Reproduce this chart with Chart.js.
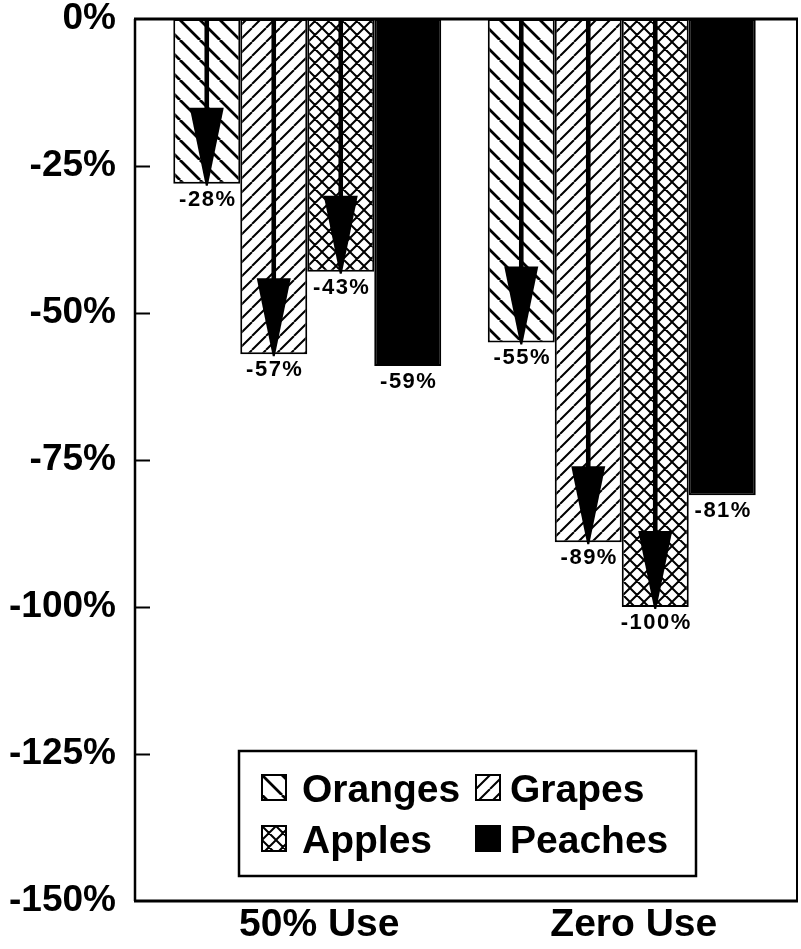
<!DOCTYPE html>
<html>
<head>
<meta charset="utf-8">
<script src="https://cdn.jsdelivr.net/npm/chart.js@4.4.1/dist/chart.umd.min.js"></script>
<style>
  html, body { margin: 0; padding: 0; background: #fff; }
  #wrap { width: 801px; height: 949px; }
</style>
</head>
<body>
<div id="wrap"><canvas id="chart" width="801" height="949"></canvas></div>
<script>
// data
const categories = ["50% Use", "Zero Use"];
const seriesNames = ["Oranges", "Grapes", "Apples", "Peaches"];
const oranges = [-28, -55];
const grapes  = [-57, -89];
const apples  = [-43, -100];
const peaches = [-59, -81];
const yTicks = [0, -25, -50, -75, -100, -125, -150];

const FONT = "'Liberation Sans', Arial, Helvetica, sans-serif";

// hatch fills
function hatch(period, dirs, lw){
  const c = document.createElement("canvas");
  c.width = c.height = period;
  const x = c.getContext("2d");
  x.fillStyle = "#fff";
  x.fillRect(0, 0, period, period);
  x.strokeStyle = "#000";
  x.lineWidth = lw;
  x.beginPath();
  for (let k = -1; k <= 1; k++){
    if (dirs.includes("\\")){ x.moveTo(k*period, 0); x.lineTo(k*period + period, period); }
    if (dirs.includes("/")){ x.moveTo(k*period, period); x.lineTo(k*period + period, 0); }
  }
  x.stroke();
  return x.createPattern(c, "repeat");
}

const fillOranges = hatch(20, "\\", 2.8);
const fillGrapes  = hatch(14, "/", 2);
const fillApples  = hatch(14, "\\/", 2);
const fillPeaches = "#000";

// frame + inward ticks
const framePlugin = {
  id: "frame",
  afterDatasetsDraw(chart){
    const { ctx, chartArea: a } = chart;
    const L = a.left - 15, R = a.right + 18;
    ctx.save();
    ctx.strokeStyle = "#000";
    ctx.lineWidth = 3;
    ctx.beginPath(); ctx.moveTo(L - 1, a.top); ctx.lineTo(R + 1, a.top); ctx.stroke();
    ctx.beginPath(); ctx.moveTo(L - 1, a.bottom); ctx.lineTo(R + 1, a.bottom); ctx.stroke();
    ctx.lineWidth = 2.5;
    ctx.beginPath(); ctx.moveTo(L, a.top); ctx.lineTo(L, a.bottom); ctx.stroke();
    ctx.lineWidth = 2;
    ctx.beginPath(); ctx.moveTo(R, a.top); ctx.lineTo(R, a.bottom); ctx.stroke();
    const y = chart.scales.y;
    ctx.lineWidth = 2;
    y.ticks.forEach(t => {
      if (t.value === 0 || t.value === -150) return;
      const py = Math.round(y.getPixelForValue(t.value)) + 0.5;
      ctx.beginPath(); ctx.moveTo(L, py); ctx.lineTo(L + 15, py); ctx.stroke();
    });
    ctx.restore();
  }
};

// arrows inside hatched bars + value labels
const arrowPlugin = {
  id: "arrows",
  afterDatasetsDraw(chart){
    const { ctx, chartArea: a } = chart;
    ctx.save();
    chart.data.datasets.forEach((ds, di) => {
      const meta = chart.getDatasetMeta(di);
      meta.data.forEach((bar, i) => {
        const x = bar.x, yEnd = bar.y;
        if (ds.arrow){
          const headH = 76, headW = 34;
          ctx.fillStyle = "#000";
          ctx.fillRect(x - 2.3, a.top, 4.6, yEnd - headH - a.top + 2);
          ctx.beginPath();
          ctx.moveTo(x - headW/2, yEnd - headH);
          ctx.lineTo(x + headW/2, yEnd - headH);
          ctx.lineTo(x + 1, yEnd + 2);
          ctx.lineTo(x - 1, yEnd + 2);
          ctx.closePath();
          ctx.fill();
        }
        ctx.fillStyle = "#000";
        ctx.font = "bold 22px " + FONT;
        ctx.letterSpacing = "1.5px";
        ctx.textAlign = "center";
        ctx.textBaseline = "top";
        ctx.fillText(ds.data[i] + "%", x + 1, yEnd + 5);
      });
    });
    ctx.restore();
  }
};

// boxed legend inside the plot
const legendPlugin = {
  id: "boxLegend",
  afterDraw(chart){
    const { ctx } = chart;
    const box = { x: 239, y: 751, w: 457, h: 125 };
    const cols = [262, 476];
    const textX = [302, 510];
    const baselines = [802, 853];
    ctx.save();
    ctx.fillStyle = "#fff";
    ctx.fillRect(box.x, box.y, box.w, box.h);
    ctx.strokeStyle = "#000";
    ctx.lineWidth = 2.5;
    ctx.strokeRect(box.x, box.y, box.w, box.h);
    ctx.font = "bold 39px " + FONT;
    ctx.textBaseline = "alphabetic";
    ctx.textAlign = "left";
    chart.data.datasets.forEach((ds, i) => {
      const col = i % 2, row = Math.floor(i / 2);
      const sx = cols[col], sy = baselines[row] - 27;
      ctx.save();
      ctx.translate(sx, sy);
      ctx.fillStyle = ds.backgroundColor;
      ctx.fillRect(0, 0, 24, 25);
      ctx.lineWidth = 2;
      ctx.strokeStyle = "#000";
      ctx.strokeRect(0, 0, 24, 25);
      ctx.restore();
      ctx.fillStyle = "#000";
      ctx.fillText(ds.label, textX[col], baselines[row]);
    });
    ctx.restore();
  }
};

const fills = [fillOranges, fillGrapes, fillApples, fillPeaches];
const values = [oranges, grapes, apples, peaches];

new Chart(document.getElementById("chart"), {
  type: "bar",
  data: {
    labels: categories,
    datasets: seriesNames.map((name, i) => ({
      label: name,
      data: values[i],
      backgroundColor: fills[i],
      arrow: i < 3
    }))
  },
  options: {
    responsive: false,
    animation: false,
    devicePixelRatio: 1,
    layout: { padding: { top: 19, right: 22, left: 0, bottom: 0 } },
    datasets: {
      bar: {
        barPercentage: 1,
        categoryPercentage: 0.852,
        borderColor: "#000",
        borderWidth: 2,
        borderSkipped: false
      }
    },
    plugins: { legend: { display: false }, tooltip: { enabled: false } },
    scales: {
      x: {
        grid: { display: false, drawTicks: false },
        border: { display: false },
        ticks: {
          color: "#000",
          font: { family: FONT, size: 39, weight: "bold", lineHeight: 1 },
          padding: 5,
          labelOffset: 12,
          maxRotation: 0,
          autoSkip: false
        },
        afterFit(s){ s.height = 48; }
      },
      y: {
        min: -150,
        max: 0,
        grid: { display: false, drawTicks: false },
        border: { display: false },
        afterBuildTicks(s){ s.ticks = yTicks.map(v => ({ value: v })); },
        ticks: {
          color: "#000",
          font: { family: FONT, size: 37, weight: "bold", lineHeight: 1 },
          padding: 34,
          callback: v => v + "%"
        },
        afterFit(s){ s.width = 150; s.paddingTop = 0; s.paddingBottom = 0; }
      }
    }
  },
  plugins: [framePlugin, arrowPlugin, legendPlugin]
});
</script>
</body>
</html>
